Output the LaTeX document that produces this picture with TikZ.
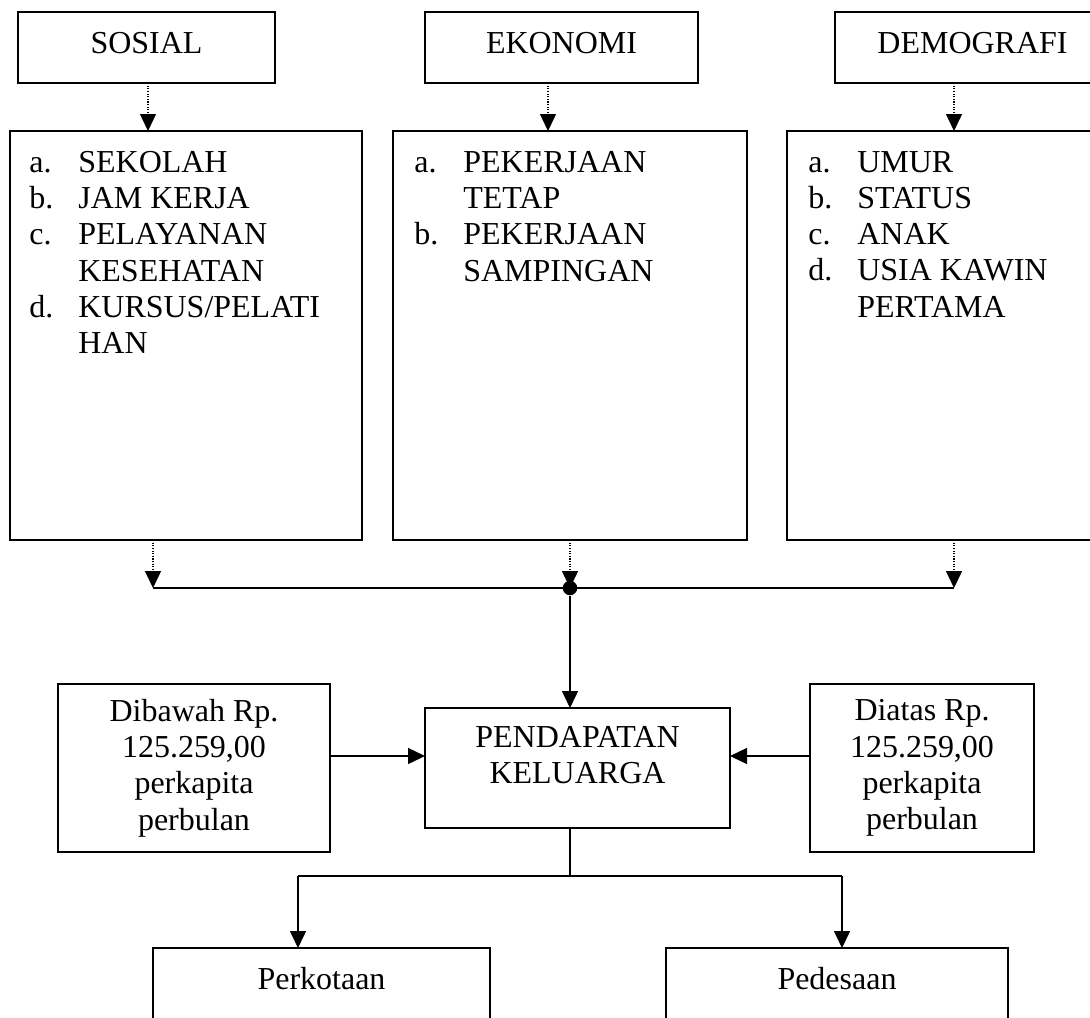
\documentclass[tikz,border=0pt]{standalone}
\usepackage{fontspec}
\setmainfont{Liberation Serif}
\usetikzlibrary{arrows.meta}
\newcommand{\itm}[1]{\makebox[0.98cm][l]{#1}}
\newcommand{\cnt}{\hspace*{0.98cm}}
\begin{document}
\begin{tikzpicture}[
    every node/.style={font=\fontsize{18.2pt}{20.6pt}\selectfont},
    box/.style={draw, line width=1.2pt, inner sep=0pt, outer sep=0pt},
    topbox/.style={box, minimum height=1.42cm, text height=0.42cm, text depth=0.2cm},
    listbox/.style={box, minimum height=8.18cm},
    listtext/.style={anchor=north west, align=left, inner sep=0pt},
    dotbox/.style={fill, circle, inner sep=0pt, minimum size=0.29cm},
    arr/.style={line width=0.8pt, -{Triangle[width=0.32cm,length=0.34cm]}},
    dotarr/.style={arr, dash pattern=on 0.6pt off 0.9pt},
    line/.style={line width=0.8pt}]
        \useasboundingbox (0,0) rectangle (21.800000,-20.340000);%
        \clip (0,0) rectangle (21.800000,-20.340000);%
        
        % Drawing top boxes
        \node [topbox, minimum width=5.14cm] (sosial) at (2.930000,-0.950000) {SOSIAL};%
        \node [topbox, minimum width=5.46cm] (ekonomi) at (11.230000,-0.950000) {EKONOMI};%
        \node [topbox, minimum width=5.50cm] (demografi) at (19.450000,-0.950000) {DEMOGRAFI};%
        
        % Drawing list boxes
        \node [listbox, minimum width=7.04cm] (soslist) at (3.720000,-6.710000) {};%
        \node [listbox, minimum width=7.08cm] (ekolist) at (11.400000,-6.710000) {};%
        \node [listbox, minimum width=6.46cm] (demlist) at (18.970000,-6.710000) {};%
        \node [listtext] (sostext) at ([xshift=0.38cm,yshift=-0.40cm]soslist.north west)
            {\itm{a.}SEKOLAH\\ \itm{b.}JAM KERJA\\ \itm{c.}PELAYANAN\\ \cnt KESEHATAN\\ \itm{d.}KURSUS/PELATI\\ \cnt HAN};%
        \node [listtext] (ekotext) at ([xshift=0.42cm,yshift=-0.40cm]ekolist.north west)
            {\itm{a.}PEKERJAAN\\ \cnt TETAP\\ \itm{b.}PEKERJAAN\\ \cnt SAMPINGAN};%
        \node [listtext] (demtext) at ([xshift=0.42cm,yshift=-0.40cm]demlist.north west)
            {\itm{a.}UMUR\\ \itm{b.}STATUS\\ \itm{c.}ANAK\\ \itm{d.}USIA KAWIN\\ \cnt PERTAMA};%
        
        % Drawing dotted arrows from top boxes
        \coordinate (sosx) at (2.960000,0);%
        \coordinate (ekox) at (10.960000,0);%
        \coordinate (demx) at (19.080000,0);%
        \draw [dotarr] (sosial.south -| sosx) -- (soslist.north -| sosx);%
        \draw [dotarr] (ekonomi.south -| ekox) -- (ekolist.north -| ekox);%
        \draw [dotarr] (demografi.south -| demx) -- (demlist.north -| demx);%
        
        % Drawing join line
        \coordinate (joinL) at (3.060000,-11.760000);%
        \coordinate (joinR) at (19.080000,-11.760000);%
        \draw [line width=1.2pt] (joinL) -- (joinR);%
        \draw [dotarr] (soslist.south -| joinL) -- (joinL);%
        \draw [dotarr] (ekolist.south) -- (11.400000,-11.760000);%
        \draw [dotarr] (demlist.south -| joinR) -- (joinR);%
        \node [dotbox] (join) at (11.400000,-11.760000) {};%
        
        % Drawing middle boxes
        \node [box, minimum width=6.10cm, minimum height=2.40cm] (pendapatan) at (11.550000,-15.360000) {};%
        \node [align=center, inner sep=0pt] (pendtext) at ([yshift=0.26cm]pendapatan.center) {PENDAPATAN\\KELUARGA};%
        \node [box, minimum width=5.44cm, minimum height=3.36cm, align=center] (dibawah) at (3.880000,-15.360000)
            {Dibawah Rp.\\125.259,00\\perkapita\\perbulan};%
        \node [box, minimum width=4.48cm, minimum height=3.36cm, align=center] (diatas) at (18.440000,-15.360000)
            {Diatas Rp.\\125.259,00\\perkapita\\perbulan};%
        \draw [arr] (join) -- (join |- pendapatan.north);%
        \draw [arr] ([yshift=0.24cm]dibawah.east) -- ([yshift=0.24cm]pendapatan.west);%
        \draw [arr] ([yshift=0.24cm]diatas.west) -- ([yshift=0.24cm]pendapatan.east);%
        
        % Drawing bottom boxes
        \node [box, minimum width=6.74cm, minimum height=2.24cm] (perkotaan) at (6.430000,-20.080000) {};%
        \node [box, minimum width=6.84cm, minimum height=2.24cm] (pedesaan) at (16.740000,-20.080000) {};%
        \node (kotatext) at ([yshift=-0.62cm]perkotaan.north) {Perkotaan};%
        \node (desatext) at ([yshift=-0.62cm]pedesaan.north) {Pedesaan};%
        
        % Drawing branch
        \coordinate (fork) at (11.400000,-17.520000);%
        \coordinate (kotax) at (5.960000,-17.520000);%
        \coordinate (desax) at (16.840000,-17.520000);%
        \draw [line] (pendapatan.south -| fork) -- (fork);%
        \draw [line] (kotax) -- (desax);%
        \draw [arr] (kotax) -- (kotax |- perkotaan.north);%
        \draw [arr] (desax) -- (desax |- pedesaan.north);%
\end{tikzpicture}
\end{document}
